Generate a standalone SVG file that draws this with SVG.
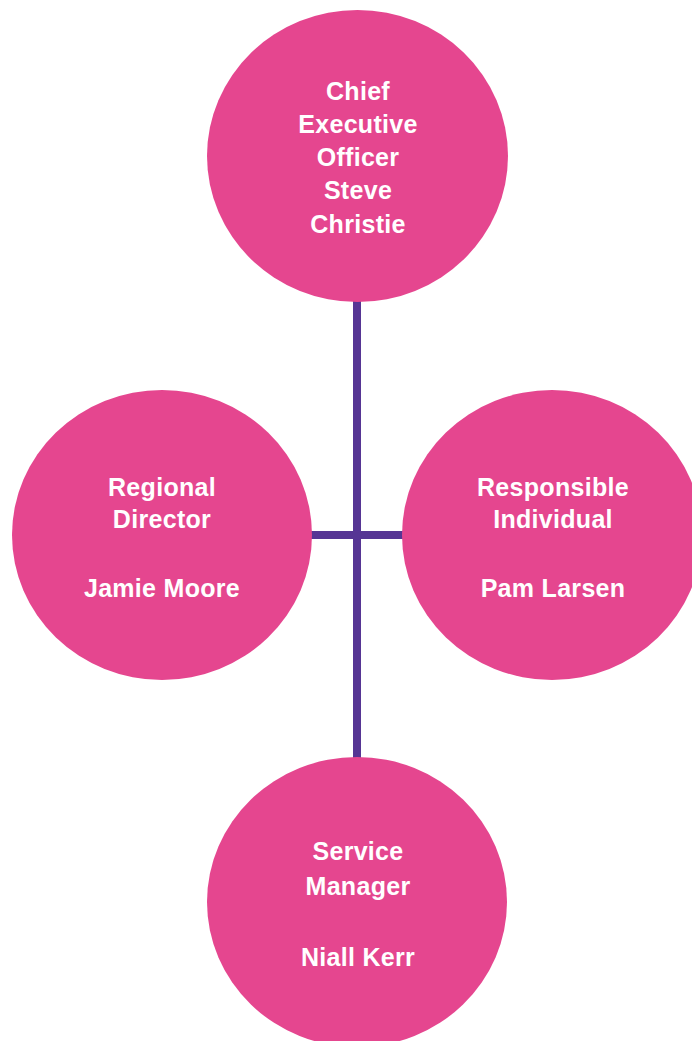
<svg xmlns="http://www.w3.org/2000/svg" width="692" height="1041" viewBox="0 0 692 1041">
<style>
.node{fill:#E5468F}
.lbl{font-family:"Liberation Sans",Arial,sans-serif;font-weight:bold;font-size:25px;letter-spacing:0.3px;fill:#FFFFFF;text-anchor:middle}
.conn{stroke:#563594;stroke-width:8;fill:none}
</style>
<rect width="692" height="1041" fill="#FFFFFF"/>
<g id="connectors">
<line class="conn" x1="357" y1="296" x2="357" y2="762"/>
<line class="conn" x1="308" y1="535" x2="406" y2="535"/>
</g>
<g id="node-ceo">
<ellipse class="node" cx="357.5" cy="156" rx="150.5" ry="146"/>
<text class="lbl"><tspan x="358" y="100">Chief</tspan><tspan x="358" y="133">Executive</tspan><tspan x="358" y="166">Officer</tspan><tspan x="358" y="199">Steve</tspan><tspan x="358" y="233">Christie</tspan></text>
</g>
<g id="node-regional">
<ellipse class="node" cx="162" cy="535" rx="150" ry="145"/>
<text class="lbl"><tspan x="162" y="496">Regional</tspan><tspan x="162" y="528">Director</tspan><tspan x="162" y="597">Jamie Moore</tspan></text>
</g>
<g id="node-responsible">
<ellipse class="node" cx="552" cy="535" rx="150" ry="145"/>
<text class="lbl"><tspan x="553" y="496">Responsible</tspan><tspan x="553" y="528">Individual</tspan><tspan x="553" y="597">Pam Larsen</tspan></text>
</g>
<g id="node-service">
<ellipse class="node" cx="357" cy="902" rx="150" ry="145"/>
<text class="lbl"><tspan x="358" y="860">Service</tspan><tspan x="358" y="895">Manager</tspan><tspan x="358" y="966">Niall Kerr</tspan></text>
</g>
</svg>
